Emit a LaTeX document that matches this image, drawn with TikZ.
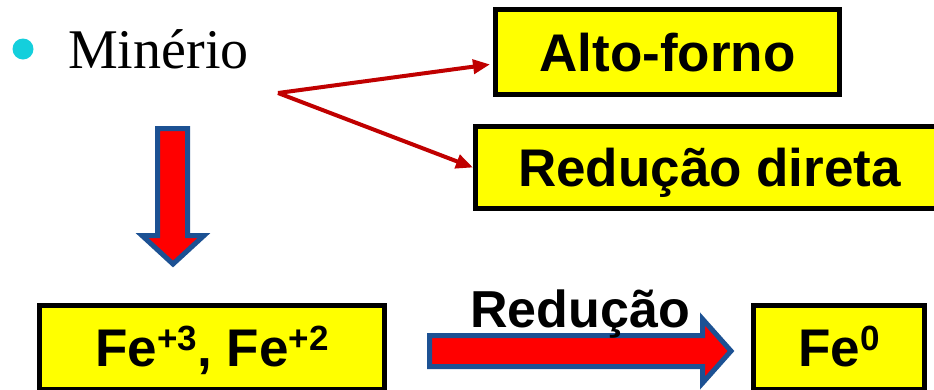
\documentclass[tikz,border=0pt]{standalone}
\usepackage{fontspec}
\setmainfont{Liberation Serif}
\newfontfamily\boxfont{Liberation Sans}
\usetikzlibrary{arrows.meta}
\definecolor{boxyellow}{HTML}{FFFF00}
\definecolor{arrred}{HTML}{FF0000}
\definecolor{arrblue}{HTML}{1C5193}
\definecolor{linered}{HTML}{C00000}
\definecolor{bulletcyan}{HTML}{14CFDC}
\newcommand{\supA}[1]{\raisebox{16pt}{\fontsize{35}{40}\selectfont #1}}
\tikzset{
  ybox/.style={draw=black, line width=5pt, fill=boxyellow, inner sep=0pt,
    font=\boxfont\bfseries\fontsize{53}{60}\selectfont,
    text height=38pt, text depth=0pt},
  blockarrow/.style={draw=arrblue, fill=arrred, line width=5pt, line join=miter},
  thinarrow/.style={draw=linered, line width=4pt,
    -{Triangle[length=17pt,width=14pt]}}
}
\begin{document}
\begin{tikzpicture}[x=1pt,y=-1pt]
\useasboundingbox (0,0) rectangle (934,389);
\clip (0,0) rectangle (934,389);
\fill[white] (0,0) rectangle (934,389);
% bullet and Minerio
\fill[bulletcyan] (23,49) circle (10.5);
\node[anchor=base west, inner sep=0pt, font=\fontsize{56}{60}\selectfont] (min) at (68,68) {Minério};
\coordinate (m) at (278,93);
% boxes
\node[ybox, minimum width=344pt, minimum height=85pt] (alto) at (667.5,52) {Alto-forno};
\node[ybox, minimum width=468pt, minimum height=82pt] (direta) at (709.5,167.5) {Redução direta};
\node[ybox, minimum width=345pt, minimum height=84pt] (fe) at (212,347.5) {Fe\supA{+3}, Fe\supA{+2}};
\node[ybox, minimum width=171pt, minimum height=84pt] (fezero) at (839,347.5) {Fe\supA{0}};
% thin arrows
\draw[thinarrow, shorten >=3pt] (m) -- ([yshift=-12pt]alto.west);
\draw[thinarrow] (m) -- (direta.west);
% block arrows
\draw[blockarrow] (157.5,128.5) -- (187.5,128.5) -- (187.5,235.5) -- (204,235.5)
  -- (173,264) -- (142,235.5) -- (157.5,235.5) -- cycle;
\draw[blockarrow] (429.5,335.5) -- (702.5,335.5) -- (702.5,319) -- (731,351)
  -- (702.5,383) -- (702.5,366.5) -- (429.5,366.5) -- cycle;
\node[anchor=base, inner sep=0pt, font=\boxfont\bfseries\fontsize{52}{60}\selectfont] (red) at (580,327) {Redução};
\end{tikzpicture}
\end{document}
